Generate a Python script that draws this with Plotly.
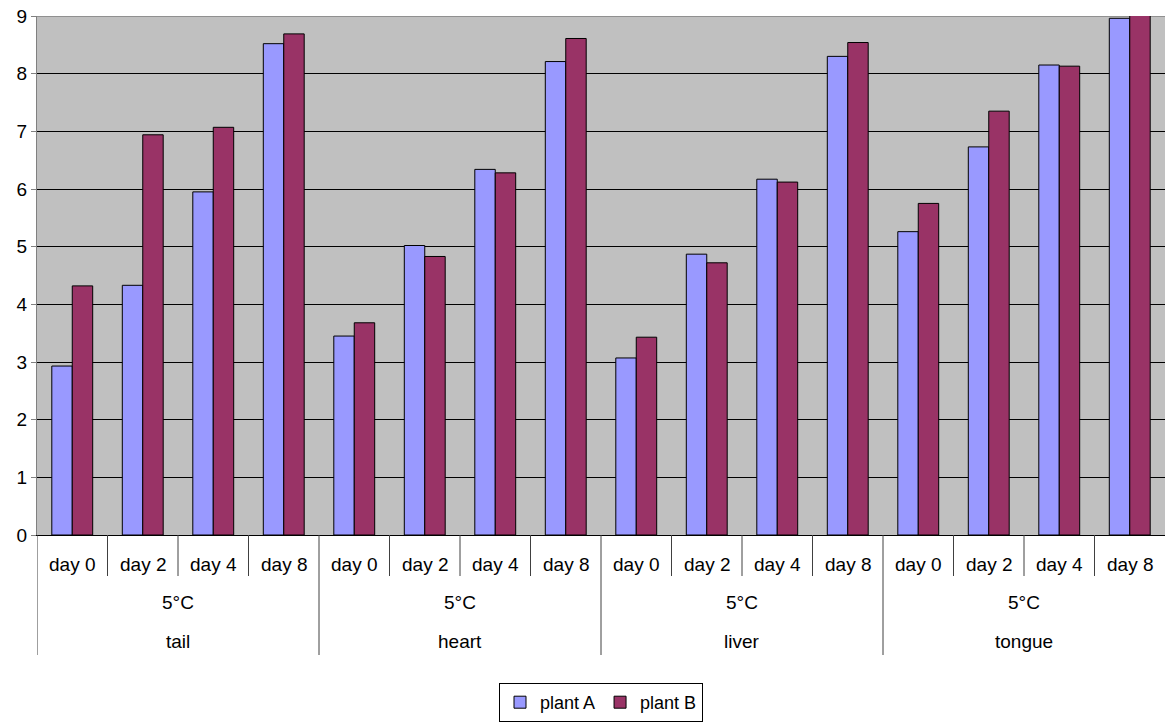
import plotly.graph_objects as go

days = ["day 0", "day 2", "day 4", "day 8"]
organs = ["tail", "heart", "liver", "tongue"]
temperature = "5°C"
plant_a = [2.93, 4.33, 5.95, 8.52,
           3.45, 5.02, 6.34, 8.21,
           3.07, 4.87, 6.17, 8.30,
           5.26, 6.73, 8.15, 8.96]
plant_b = [4.32, 6.94, 7.07, 8.69,
           3.68, 4.83, 6.28, 8.61,
           3.43, 4.72, 6.12, 8.54,
           5.75, 7.35, 8.13, 9.05]

n = len(organs) * len(days)
xs = list(range(n))

FONT = "Liberation Sans, Arial, sans-serif"

fig = go.Figure()
fig.add_trace(go.Bar(x=xs, y=plant_a, name="plant A", cliponaxis=False,
                     marker=dict(color="#9999FF", line=dict(color="black", width=1))))
fig.add_trace(go.Bar(x=xs, y=plant_b, name="plant B", cliponaxis=False,
                     marker=dict(color="#993366", line=dict(color="black", width=1))))

H_PLOT = 723 - 16 - 188
def py(pix):
    return (535 - pix) / H_PLOT

shapes = []
annotations = []
for i in range(n):
    annotations.append(dict(x=i, y=py(564), xref="x", yref="paper", yanchor="middle",
                            text=days[i % len(days)],
                            showarrow=False, font=dict(size=19, color="black", family=FONT)))
    if i % len(days) == 0:
        shapes.append(dict(type="line", xref="x", yref="paper", x0=i - 0.5, x1=i - 0.5,
                           y0=0, y1=py(655), line=dict(color="#404040", width=1)))
    else:
        shapes.append(dict(type="line", xref="x", yref="paper", x0=i - 0.5, x1=i - 0.5,
                           y0=0, y1=py(576), line=dict(color="#404040", width=1)))
for k, org in enumerate(organs):
    cx = k * len(days) + (len(days) - 1) / 2
    annotations.append(dict(x=cx, y=py(602), xref="x", yref="paper", yanchor="middle",
                            text=temperature,
                            showarrow=False, font=dict(size=19, color="black", family=FONT)))
    annotations.append(dict(x=cx, y=py(641), xref="x", yref="paper", yanchor="middle",
                            text=org,
                            showarrow=False, font=dict(size=19, color="black", family=FONT)))
shapes.append(dict(type="line", xref="paper", yref="y", x0=0, x1=1, y0=9, y1=9,
                   layer="between", line=dict(color="#808080", width=1.5)))

fig.update_layout(
    width=1165, height=723,
    margin=dict(l=37, r=0, t=16, b=188, autoexpand=False),
    paper_bgcolor="white", plot_bgcolor="#C0C0C0",
    barmode="group", bargap=0.42, bargroupgap=0,
    font=dict(family=FONT, size=19, color="black"),
    showlegend=True,
    legend=dict(orientation="h", x=0.5, xanchor="center", xref="paper",
                y=(723 - 722) / 723, yanchor="bottom", yref="container",
                bgcolor="white", bordercolor="black", borderwidth=1,
                font=dict(size=18), itemwidth=30, tracegroupgap=0),
    shapes=shapes, annotations=annotations,
)
fig.update_xaxes(range=[-0.5, n - 0.5], showticklabels=False, showgrid=False,
                 zeroline=False, showline=True, linecolor="black", linewidth=1, ticks="",
                 automargin=False)
fig.update_yaxes(range=[0, 9], tickvals=list(range(10)), showgrid=True, gridcolor="black",
                 gridwidth=1, zeroline=False, showline=True, linecolor="#808080", linewidth=1,
                 ticks="outside", ticklen=5, tickcolor="#808080", automargin=False,
                 tickfont=dict(size=19, color="black", family=FONT))

fig.write_html("out.html", config={"displayModeBar": False},
               post_script="document.body.style.margin='0px';")
